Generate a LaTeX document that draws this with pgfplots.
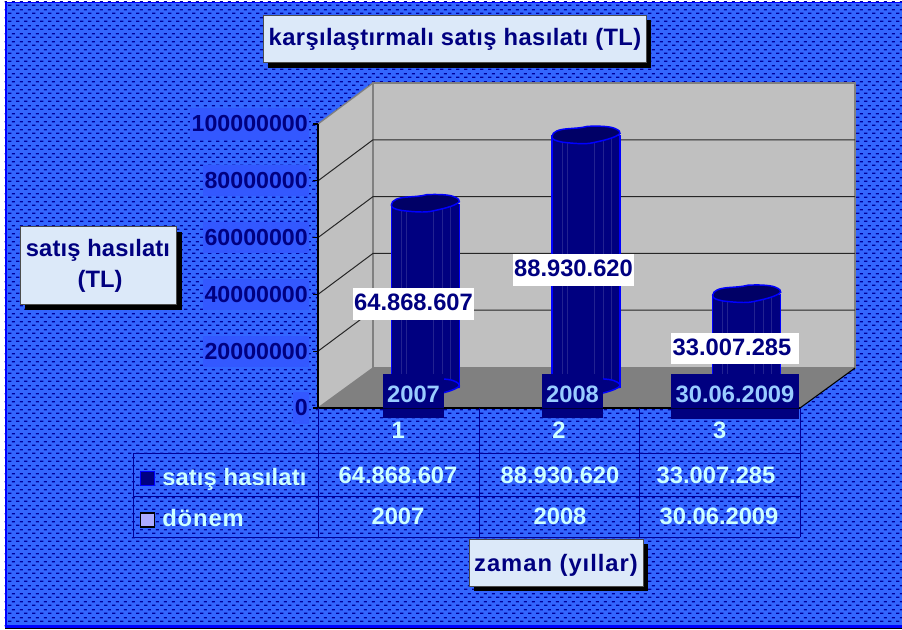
\documentclass[border=0pt]{standalone}
\usepackage{fontspec}
\setmainfont{Liberation Sans}
\usepackage{pgfplots}
\usepackage{pgfplotstable}
\pgfplotsset{compat=1.18}
\usetikzlibrary{patterns}
\definecolor{bgblue}{HTML}{3366FF}
\definecolor{dashblue}{HTML}{000099}
\definecolor{edgeblue}{HTML}{0000FF}
\definecolor{navy}{HTML}{000080}
\definecolor{topnavy}{HTML}{000066}
\definecolor{stripe}{HTML}{222290}
\definecolor{wall}{HTML}{C0C0C0}
\definecolor{wedge}{HTML}{808080}
\definecolor{labbg}{HTML}{3358FF}
\definecolor{tabtxt}{HTML}{CCFFFF}
\definecolor{cattxt}{HTML}{99CCFF}
\definecolor{boxfill}{HTML}{DCE9F9}
\definecolor{tabline}{HTML}{000099}
\pgfdeclarepatternformonly{dashtile}{\pgfqpoint{0pt}{0pt}}{\pgfqpoint{6pt}{6pt}}{\pgfqpoint{6pt}{6pt}}{%
  \pgfpathrectangle{\pgfqpoint{0.2pt}{0pt}}{\pgfqpoint{2.6pt}{1.2pt}}%
  \pgfpathrectangle{\pgfqpoint{3.2pt}{3pt}}{\pgfqpoint{2.6pt}{1.2pt}}%
  \pgfusepath{fill}}
% wobbly top of the cylinder, offsets in px times 0.75pt
\pgfdeclareplotmark{cyl}{%
  \pgfpathmoveto{\pgfqpoint{-25.5pt}{-1pt}}%
  \pgfpathcurveto{\pgfqpoint{-25.5pt}{3pt}}{\pgfqpoint{-20pt}{4.5pt}}{\pgfqpoint{-14pt}{5pt}}%
  \pgfpathcurveto{\pgfqpoint{-8pt}{5.5pt}}{\pgfqpoint{-4pt}{5.5pt}}{\pgfqpoint{1pt}{6.8pt}}%
  \pgfpathcurveto{\pgfqpoint{8pt}{7.2pt}}{\pgfqpoint{17pt}{7pt}}{\pgfqpoint{21pt}{5.5pt}}%
  \pgfpathcurveto{\pgfqpoint{25pt}{4pt}}{\pgfqpoint{26pt}{2.5pt}}{\pgfqpoint{25.5pt}{1.5pt}}%
  \pgfpathcurveto{\pgfqpoint{22pt}{-2pt}}{\pgfqpoint{12pt}{-4pt}}{\pgfqpoint{5pt}{-5.5pt}}%
  \pgfpathcurveto{\pgfqpoint{0pt}{-6.8pt}}{\pgfqpoint{-10pt}{-6pt}}{\pgfqpoint{-18pt}{-5pt}}%
  \pgfpathcurveto{\pgfqpoint{-23pt}{-4pt}}{\pgfqpoint{-25.5pt}{-3pt}}{\pgfqpoint{-25.5pt}{-1pt}}%
  \pgfpathclose
  \pgfusepathqfillstroke}
\pgfplotstableread{
x v
1 64868607
2 88930620
3 33007285
}\sales
\pgfplotsset{pix/.style={scale only axis,width=676.5pt,height=471.75pt,at={(0pt,0pt)},
  xmin=0,xmax=902,ymin=0,ymax=629,y dir=reverse,axis lines=none,clip=false}}
\tikzset{txt/.style={font=\bfseries\fontsize{17.8}{20}\selectfont,inner sep=0pt,anchor=base},
  bx/.style={draw=black!70,line width=0.75pt,fill=boxfill}}
\newcommand{\ls}[1]{\addfontfeatures{LetterSpace=#1}}
\begin{document}
\begin{tikzpicture}
\useasboundingbox (0pt,0pt) rectangle (676.5pt,471.75pt);
\clip (0pt,0pt) rectangle (676.5pt,471.75pt);
% background and 3D walls
\begin{axis}[pix]
\fill[white] (0,0) rectangle (902,629);
\fill[bgblue] (4.5,1.5) rectangle (902,626);
\fill[pattern=dashtile,pattern color=dashblue] (4.5,1.5) rectangle (902,626);
\fill[edgeblue] (4.5,1.5) rectangle (7.2,626);
\fill[edgeblue] (4.5,1.5) rectangle (902,3.2);
\fill[edgeblue] (4.5,624.5) rectangle (902,628);
\fill[black] (4.5,628) rectangle (902,629);
% floor, walls
\fill[wedge] (318,408) -- (373,368) -- (855,368) -- (800,408) -- cycle;
\filldraw[fill=wall,draw=wedge,line width=1pt] (318,124) -- (373,83) -- (373,368) -- (318,408) -- cycle;
\filldraw[fill=wall,draw=wedge,line width=1.2pt] (373,83) -- (855,83) -- (855,368) -- (373,368) -- cycle;
\draw[black,line width=0.8pt] (800,408) -- (855,368);
\draw[black!85,line width=0.75pt] (318,180.8) -- (373,139.8) -- (855,139.8);
\draw[black!85,line width=0.75pt] (318,237.6) -- (373,196.6) -- (855,196.6);
\draw[black!85,line width=0.75pt] (318,294.4) -- (373,253.4) -- (855,253.4);
\draw[black!85,line width=0.75pt] (318,351.2) -- (373,310.2) -- (855,310.2);
\end{axis}
% front-plane axis with value ticks
\begin{axis}[scale only axis,width=361.5pt,height=213pt,at={(238.5pt,165.75pt)},
  xmin=0.5,xmax=3.5,ymin=0,ymax=100000000,clip=false,
  axis x line*=bottom,axis y line*=left,axis line style={-,black,line width=0.8pt},
  xtick={1,2,3},xticklabels={1,2,3},major x tick style={draw=none},
  ytick={0,20000000,40000000,60000000,80000000,100000000},
  yticklabels={0,20000000,40000000,60000000,80000000,100000000},
  scaled y ticks=false,tick align=outside,major tick length=3.75pt,
  y tick style={black,line width=0.8pt},
  y tick label style={font=\bfseries\fontsize{17.4}{20}\selectfont,text=navy,fill=labbg,
    inner xsep=1.2pt,inner ysep=5.5pt,anchor=east,xshift=-2.5pt},
  x tick label style={font=\bfseries\fontsize{17.8}{20}\selectfont,text=tabtxt,
    anchor=base,inner sep=0pt,yshift=-18.75pt},
]
\addplot[draw=none] coordinates {(1,0)};
\end{axis}
% bars, set back half the depth of the floor
\begin{axis}[scale only axis,width=361.5pt,height=213pt,at={(258.75pt,180.75pt)},
  xmin=0.5,xmax=3.5,ymin=0,ymax=100000000,clip=false,axis lines=none]
\addplot[only marks,mark=cyl,mark options={fill=navy,draw=edgeblue,line width=1.1pt}]
  table[x=x,y expr=0]{\sales};
\addplot[ybar,bar width=51pt,fill=navy,draw=none] table[x=x,y=v]{\sales};
\pgfplotsinvokeforeach{-0.149,-0.118,0.05,0.106,0.156}{
  \addplot[ycomb,no markers,draw=stripe,line width=0.4pt] table[x expr=\thisrow{x}+#1,y=v]{\sales};
}
\pgfplotsinvokeforeach{-0.2116,0.2116}{
  \addplot[ycomb,no markers,draw=edgeblue,line width=1.1pt] table[x expr=\thisrow{x}+#1,y=v]{\sales};
}
\addplot[only marks,mark=cyl,mark options={fill=topnavy,draw=edgeblue,line width=1.1pt}]
  table[x=x,y=v]{\sales};
\end{axis}
% labels, boxes and data table
\begin{axis}[pix]
% data table
\draw[tabline,line width=0.7pt] (133,453) -- (800,453) (133,496.5) -- (800,496.5) (133,537) -- (800,537)
  (133,453) -- (133,537) (318,408) -- (318,537) (479,408) -- (479,537) (639,408) -- (639,537) (800,408) -- (800,537);
\filldraw[fill=navy,draw=edgeblue,line width=1pt] (140.5,471.5) rectangle (154.5,485.5);
\filldraw[fill=blue!33!white,draw=black,line width=1pt] (140.5,513) rectangle (154.5,527);
\node[txt,text=tabtxt,anchor=base west] at (162,485) {\ls{0.6}satış hasılatı};
\node[txt,text=tabtxt,anchor=base west] at (162,526) {\ls{4}dönem};
\node[txt,text=tabtxt] at (398,483) {64.868.607};
\node[txt,text=tabtxt] at (560,483) {88.930.620};
\node[txt,text=tabtxt] at (716,483) {33.007.285};
\node[txt,text=tabtxt] at (398,524) {2007};
\node[txt,text=tabtxt] at (560,524) {2008};
\node[txt,text=tabtxt] at (719,524) {30.06.2009};
% category boxes
\fill[navy] (383,374) rectangle (444,418);
\fill[navy] (542,374) rectangle (603,418);
\fill[navy] (671,374) rectangle (799,419);
\draw[black!60!navy,line width=0.75pt] (383,408) -- (444,408) (542,408) -- (603,408) (671,408) -- (799,408);
\node[txt,text=cattxt] at (413.5,402) {2007};
\node[txt,text=cattxt] at (572.5,402) {2008};
\node[txt,text=cattxt] at (735,402) {30.06.2009};
% value boxes
\fill[white] (353,288) rectangle (474,320);
\fill[white] (513,254) rectangle (634,286);
\fill[white] (671,333) rectangle (799,364);
\node[txt,text=navy] at (413.5,310) {64.868.607};
\node[txt,text=navy] at (573.5,276) {88.930.620};
\node[txt,text=navy] at (732,355) {33.007.285};
% title boxes
\fill[black] (268,20) rectangle (651,68);
\filldraw[bx] (263,15) rectangle (646,62);
\node[txt,text=navy] at (455,45) {\ls{1.7}karşılaştırmalı satış hasılatı (TL)};
\fill[black] (25,232) rectangle (182,310);
\filldraw[bx] (20,226) rectangle (176,304);
\node[txt,text=navy] at (98,256) {\ls{0.6}satış hasılatı};
\node[txt,text=navy] at (100,287) {(TL)};
\fill[black] (474,544) rectangle (648,591);
\filldraw[bx] (469,539) rectangle (643,586);
\node[txt,text=navy] at (556,571) {\ls{4.2}zaman (yıllar)};
\end{axis}
\end{tikzpicture}
\end{document}
